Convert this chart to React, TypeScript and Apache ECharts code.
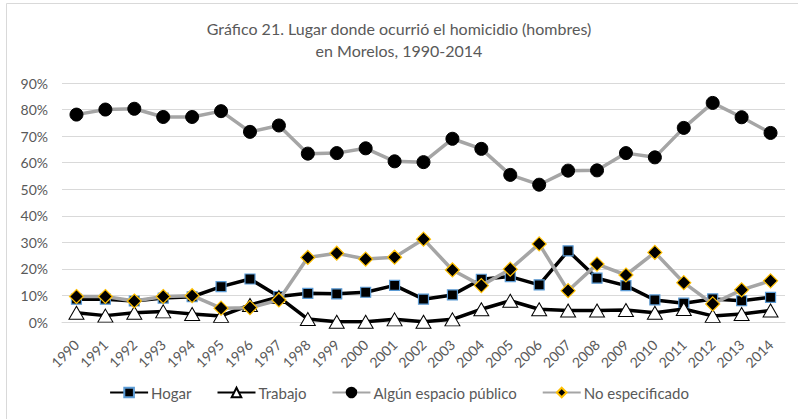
import React, { useEffect, useRef } from "react";
import * as echarts from "echarts";

const years = ["1990","1991","1992","1993","1994","1995","1996","1997","1998","1999","2000","2001","2002","2003","2004","2005","2006","2007","2008","2009","2010","2011","2012","2013","2014"];
const hogar = [8.6, 8.6, 7.9, 9.0, 9.5, 13.3, 16.2, 9.6, 10.8, 10.6, 11.2, 13.8, 8.6, 10.2, 16.1, 17.1, 14.0, 26.8, 16.5, 13.7, 8.3, 7.1, 8.7, 8.0, 9.3];
const trabajo = [3.5, 2.4, 3.5, 4.0, 3.0, 2.3, 6.4, 9.4, 1.1, 0.1, 0.1, 1.0, 0.1, 1.0, 4.8, 8.0, 4.8, 4.3, 4.3, 4.5, 3.5, 4.9, 2.3, 3.0, 4.3];
const publico = [78.1, 80.0, 80.3, 77.2, 77.2, 79.4, 71.6, 74.0, 63.4, 63.6, 65.4, 60.5, 60.2, 69.0, 65.2, 55.4, 51.7, 57.0, 57.1, 63.6, 62.0, 73.1, 82.5, 77.1, 71.2];
const noEsp = [9.6, 9.6, 7.9, 9.6, 9.9, 5.2, 5.4, 8.3, 24.3, 25.9, 23.7, 24.4, 31.2, 19.6, 13.7, 19.9, 29.4, 11.8, 21.8, 17.7, 26.2, 14.8, 6.8, 12.1, 15.5];
const yTicks = [0, 10, 20, 30, 40, 50, 60, 70, 80, 90];

const FONT = "Lato";
const TXT = "#595959";

export default function App() {
  const ref = useRef<HTMLDivElement>(null);
  useEffect(() => {
    const chart = echarts.init(ref.current!, null, { renderer: "svg" });
    chart.setOption({
      animation: false,
      textStyle: { fontFamily: FONT },
      graphic: [
        {
          type: "rect",
          shape: { x: 6.5, y: 3.5, width: 800, height: 430 },
          style: { fill: "none", stroke: "#D9D9D9", lineWidth: 1 },
          silent: true,
        },
      ],
      title: {
        text: "Gráfico 21. Lugar donde ocurrió el homicidio (hombres)\nen Morelos, 1990-2014",
        left: "center",
        top: 12,
        textStyle: { fontFamily: FONT, fontSize: 16, fontWeight: "normal", color: TXT, lineHeight: 22 },
      },
      grid: { left: 62, right: 13, top: 83, bottom: 97, containLabel: false },
      xAxis: {
        type: "category",
        data: years,
        boundaryGap: true,
        axisLine: { show: true, lineStyle: { color: "#D9D9D9", width: 1 } },
        axisTick: { show: false },
        axisLabel: { rotate: 45, color: TXT, fontSize: 14, fontFamily: FONT, margin: 20, interval: 0 },
      },
      yAxis: {
        type: "value",
        min: yTicks[0],
        max: yTicks[yTicks.length - 1],
        interval: 10,
        axisLine: { show: false },
        axisTick: { show: false },
        splitLine: { lineStyle: { color: "#D9D9D9", width: 1 } },
        axisLabel: { color: TXT, fontSize: 14, fontFamily: FONT, margin: 14, formatter: (v: number) => v + "%" },
      },
      legend: {
        bottom: 14,
        left: "center",
        itemWidth: 38,
        itemHeight: 12,
        itemGap: 25,
        textStyle: { color: TXT, fontSize: 15, fontFamily: FONT, padding: [0, 0, 0, -2] },
        data: ["Hogar", "Trabajo", "Algún espacio público", "No especificado"],
      },
      series: [
        {
          name: "Hogar",
          type: "line",
          data: hogar,
          symbol: "rect",
          symbolSize: 10,
          lineStyle: { color: "#000000", width: 3.5 },
          itemStyle: { color: "#000000", borderColor: "#5B9BD5", borderWidth: 1.2 },
          z: 2,
        },
        {
          name: "Trabajo",
          type: "line",
          data: trabajo,
          symbol: "triangle",
          symbolSize: [15, 13],
          lineStyle: { color: "#000000", width: 3.5 },
          itemStyle: { color: "#FFFFFF", borderColor: "#000000", borderWidth: 1 },
          z: 3,
        },
        {
          name: "Algún espacio público",
          type: "line",
          data: publico,
          symbol: "circle",
          symbolSize: 13,
          lineStyle: { color: "#A5A5A5", width: 3.5 },
          itemStyle: { color: "#000000", borderColor: "#000000", borderWidth: 1 },
          z: 4,
        },
        {
          name: "No especificado",
          type: "line",
          data: noEsp,
          symbol: "diamond",
          symbolSize: 14,
          lineStyle: { color: "#A5A5A5", width: 3.5 },
          itemStyle: { color: "#000000", borderColor: "#FFC000", borderWidth: 1.2 },
          z: 5,
        },
      ],
    });
    return () => chart.dispose();
  }, []);
  return (
    <div
      ref={ref}
      style={{ position: "fixed", left: 0, top: 0, width: 798, height: 419, background: "#FFFFFF" }}
    />
  );
}
